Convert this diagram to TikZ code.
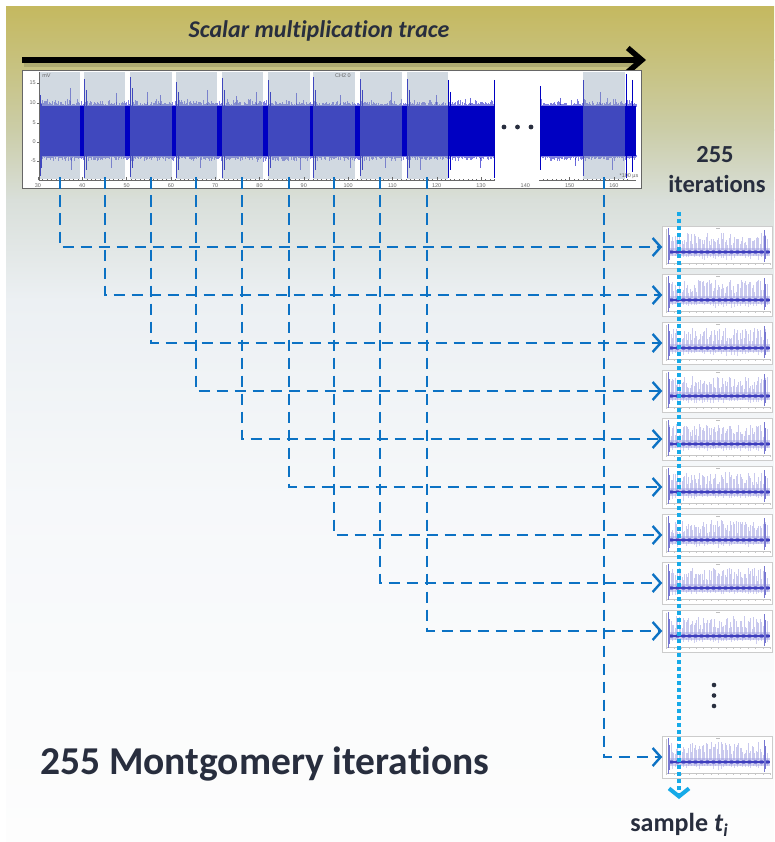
\documentclass[tikz,border=0pt]{standalone}
\usepackage{fontspec}
\setmainfont[Ligatures=NoCommon]{Carlito}
\newfontfamily\plotfont{Liberation Sans}
\usetikzlibrary{arrows.meta}

\definecolor{ink}{RGB}{40,46,62}
\definecolor{connblue}{RGB}{12,114,196}
\definecolor{skyblue}{RGB}{22,170,232}
\definecolor{sigblue}{RGB}{0,0,194}
\definecolor{veil}{RGB}{150,169,187}
\definecolor{plotgray}{RGB}{105,105,105}
\definecolor{minihaze}{RGB}{165,165,228}
\definecolor{miniband}{RGB}{62,62,190}
\definecolor{bgA}{RGB}{197,185,96}
\definecolor{bgB}{RGB}{199,193,125}
\definecolor{bgC}{RGB}{203,205,168}
\definecolor{bgD}{RGB}{217,223,218}
\definecolor{bgE}{RGB}{236,240,243}
\definecolor{bgF}{RGB}{246,248,250}
\definecolor{bgG}{RGB}{253,253,253}

% one continuous stretch of the noisy oscilloscope signal
\newcommand\sigrun[2]{%
  \fill[sigblue] (#1,106) rectangle (#2,156);
  \pgfmathsetmacro\sigstep{#1+0.7}%
  \draw[sigblue, line width=0.45pt, opacity=0.5]
    foreach \x in {#1,\sigstep,...,#2}
      {(\x,107) -- (\x,{105-7*rnd*rnd}) (\x,155) -- (\x,{157+5*rnd*rnd})};
}

% small trace of one iteration, drawn inside a thumbnail node
\newcommand\minitrace[1]{%
  \begin{scope}[shift={(#1.center)}]
    \draw[gray!45, line width=0.3pt] (-51,-18) -- (-51,16.5) -- (53,16.5);
    \draw[gray!45, line width=0.25pt]
      foreach \k in {0,...,14} {({-51+\k*7.4},16.5) -- ({-51+\k*7.4},18)};
    \fill[gray!50] (-2,-19.2) rectangle (2,-18.6);
    \draw[minihaze, line width=0.3pt, opacity=0.6]
      foreach \k in {0,...,72} {({-48+\k*1.35},3) -- ({-48+\k*1.35},{-2-13*rnd})};
    \draw[minihaze, line width=0.3pt, opacity=0.5]
      foreach \k in {0,...,36} {({-48+\k*2.7},7) -- ({-48+\k*2.7},{9+5*rnd*rnd})};
    \fill[minihaze, opacity=0.5] (-50,1) rectangle (52,9);
    \fill[miniband] (-50,3.6) rectangle (52,6.4);
    \fill[miniband, opacity=0.6]
      foreach \k in {0,...,16} {({-46+\k*6},5) ellipse [x radius=2.4, y radius=2.2]};
    \draw[miniband!70, line width=0.6pt]
      (-49.5,-19) -- (-49.5,17) (-48.3,-12) -- (-48.3,13)
      (46.5,-17) -- (46.5,15) (47.8,-11) -- (47.8,12);
  \end{scope}}

\begin{document}
\begin{tikzpicture}[x=1pt, y=-1pt,
  tracebox/.style={draw=gray!80!black, line width=0.8pt, fill=white, inner sep=0pt,
    anchor=north west, minimum width=619pt, minimum height=118pt},
  thumb/.style={draw=gray!40, line width=0.5pt, fill=white, minimum width=110pt,
    minimum height=42pt, inner sep=0pt},
  conn/.style={connblue, line width=2.4pt, dash pattern=on 11.5pt off 6.5pt,
    -{Straight Barb[length=8pt, width=18pt]}},
  scan/.style={skyblue, line width=4pt, dash pattern=on 4pt off 3pt,
    -{Straight Barb[length=8pt, width=20pt]}},
  tl/.style={font=\plotfont\fontsize{5.5}{6}\selectfont, text=plotgray, inner sep=0.5pt},
  head/.style={text=ink, inner sep=0pt, anchor=base}]
\pgfmathsetseed{1234}
\useasboundingbox (0,0) rectangle (774,842);

% background wash, olive at the top fading to white
\fill[white] (0,0) rectangle (774,842);
\shade[top color=bgA, bottom color=bgB] (6,7) rectangle (774,60.5);
\shade[top color=bgB, bottom color=bgC] (6,60) rectangle (774,130.5);
\shade[top color=bgC, bottom color=bgD] (6,130) rectangle (774,200.5);
\shade[top color=bgD, bottom color=bgE] (6,200) rectangle (774,300.5);
\shade[top color=bgE, bottom color=bgF] (6,300) rectangle (774,500.5);
\shade[top color=bgF, bottom color=bgG] (6,500) rectangle (774,842);

% title and time arrow
\node[head, font=\bfseries\itshape\fontsize{24}{28}\selectfont] (title) at (319,37.5)
  {Scalar multiplication trace};
\coordinate (arrS) at (22,60);
\coordinate (arrE) at (646,60);
\draw[black, opacity=0.12, line width=6pt] (24,64.5) -- (638,64.5);
\draw[black, line width=5.5pt, -{Straight Barb[length=14pt, width=24pt]}] (arrS) -- (arrE);

% oscilloscope capture
\node[tracebox] (trace) at (22,70.5) {};
\sigrun{39}{495}
\sigrun{540}{636}
\draw[sigblue, line width=0.9pt]
  (40,95) -- (40,176) (41.5,104) -- (41.5,168)
  (84.5,79) -- (84.5,178) (86,90) -- (86,170)
  (130.5,77) -- (130.5,177) (132,88) -- (132,168)
  (176.5,82) -- (176.5,178) (178,92) -- (178,170)
  (222.5,78) -- (222.5,178) (224,90) -- (224,170)
  (268.5,80) -- (268.5,176) (270,92) -- (270,168)
  (313.5,77) -- (313.5,178) (315,90) -- (315,170)
  (360.5,79) -- (360.5,176) (362,90) -- (362,170)
  (407.5,79) -- (407.5,178) (409,90) -- (409,168)
  (448.5,80) -- (448.5,178) (450,92) -- (450,170)
  (494,80) -- (494,178)
  (540.5,86) -- (540.5,170)
  (583.5,80) -- (583.5,176)
  (626,74) -- (626,178) (632.5,80) -- (632.5,172);
\draw[sigblue, line width=0.6pt, opacity=0.6]
  (70,88) -- (70,105) (71,158) -- (71,170)
  (116,93) -- (116,105) (111,158) -- (111,168)
  (147,92) -- (147,105) (160,95) -- (160,105)
  (207,90) -- (207,105) (200,158) -- (200,168)
  (236,96) -- (236,105) (256,92) -- (256,105)
  (296,93) -- (296,105) (300,158) -- (300,170)
  (340,95) -- (340,105) (350,158) -- (350,168)
  (391,92) -- (391,105) (385,158) -- (385,168)
  (436,95) -- (436,105) (420,158) -- (420,170)
  (470,98) -- (470,105) (480,158) -- (480,168)
  (560,98) -- (560,105) (575,158) -- (575,166)
  (600,92) -- (600,105) (612,158) -- (612,170);
% highlighted iterations
\foreach \a/\b in {39.5/80,84/125,130/172,176/217,222/263,268/310,313/355,360/402,407/448,583/625}
  \fill[veil, opacity=0.43] (\a,72.5) rectangle (\b,179.5);
% axes
\draw[plotgray, line width=0.5pt] (39,72) -- (39,180.5) -- (636,180.5);
\foreach \v in {0,...,133} {
  \pgfmathsetmacro\tx{38+\v*0.443*10}
  \draw[plotgray, line width=0.3pt] (\tx,180.5) -- (\tx,178.8);
}
\foreach \v in {30,40,...,160} {
  \pgfmathsetmacro\tx{38+(\v-30)*4.43}
  \draw[plotgray, line width=0.4pt] (\tx,180.5) -- (\tx,177.2);
  \node[tl] at (\tx,185.8) {\v};
}
\foreach \v/\yy in {15/83,10/103,5/123,0/142,-5/161} {
  \draw[plotgray, line width=0.4pt] (39,\yy) -- (37,\yy);
  \node[tl, anchor=east] at (36.5,\yy) {\v};
}
\node[tl] at (46.5,75.5) {mV};
\node[tl] at (343,76) {CH2 0};
% omitted iterations
\fill[white] (495,72) rectangle (539,181.4);
\fill[ink] (504,127) circle (2.4) (517.5,127) circle (2.4) (531,127) circle (2.4);
\node[tl] at (629,176) {*100 µs};

% iteration starts on the trace
\foreach \i/\tx in {1/60,2/105,3/151,4/196,5/242,6/289,7/334,8/380,9/427,10/604}
  \coordinate (tk\i) at (\tx,177.5);

% cut-out iteration traces
\foreach \i/\yy in {1/247,2/295,3/343,4/391,5/439,6/487,7/535,8/583,9/631,10/757}
  \node[thumb] (th\i) at (717.5,\yy) {};
\foreach \i in {1,...,10} {\minitrace{th\i}}

\foreach \i in {1,...,10} {\draw[conn] (tk\i) |- (th\i.west);}

% sampling line across all iterations
\coordinate (scanTop) at (679,212);
\coordinate (scanEnd) at (679,799);
\draw[scan] (scanTop) -- (scanEnd);

\fill[ink] (714,685) circle (2.3) (714,695.5) circle (2.3) (714,706) circle (2.3);

\node[head, font=\bfseries\fontsize{24.5}{29}\selectfont] (cnt) at (715,163) {255};
\node[head, font=\bfseries\fontsize{24.5}{29}\selectfont] (iter) at (717,193) {iterations};
\node[head, anchor=base west, font=\bfseries\fontsize{39.5}{44}\selectfont] (mont) at (40,774)
  {255 Montgomery iterations};
\node[head, font=\bfseries\fontsize{26}{30}\selectfont] (samp) at (679,831)
  {sample \textit{t}\raisebox{-0.2em}{\fontsize{18}{20}\selectfont\textit{i}}};
\end{tikzpicture}
\end{document}
